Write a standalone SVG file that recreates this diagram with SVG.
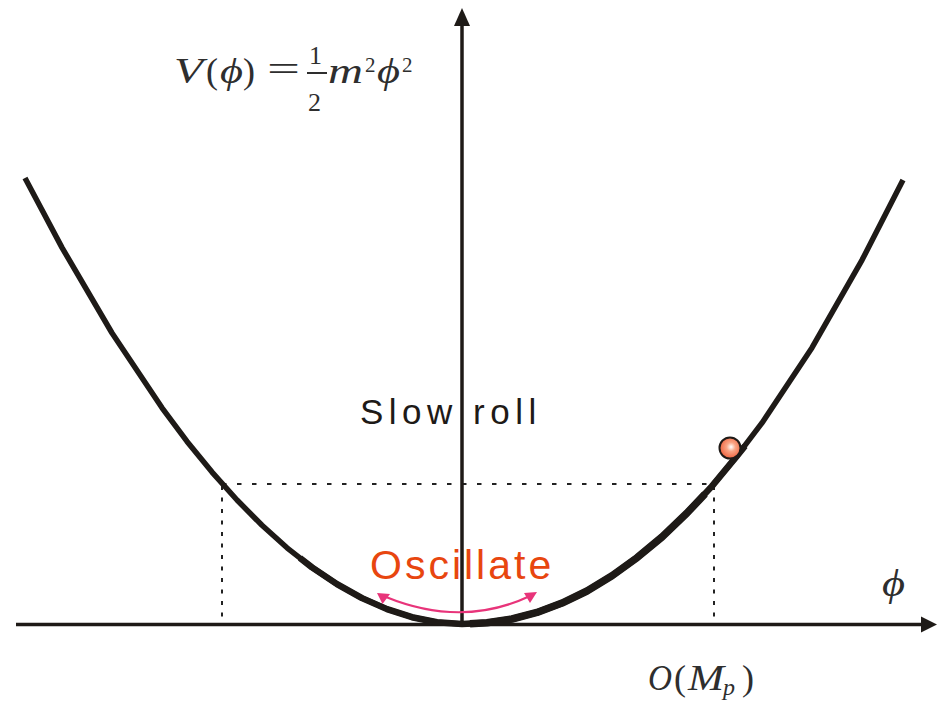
<svg xmlns="http://www.w3.org/2000/svg" width="943" height="701" viewBox="0 0 943 701">
<style>
.ax{stroke:#1e1a17;stroke-width:3.5;fill:none}
.cv{stroke:#1e1a17;fill:none;stroke-linejoin:round;stroke-linecap:butt}
.dash{stroke:#222;stroke-width:2;fill:none}
.math{font-family:"Liberation Serif","DejaVu Serif",serif;fill:#2e2e2e}
.it{font-style:italic}
.lbl{font-family:"Liberation Sans",Arial,sans-serif}
</style>
<defs>
<radialGradient id="ball" cx="0.55" cy="0.45" r="0.6">
<stop offset="0" stop-color="#ffffff"/>
<stop offset="0.35" stop-color="#f9a585"/>
<stop offset="1" stop-color="#ee5a35"/>
</radialGradient>
</defs>
<g id="dashed-guides">
<path class="dash" d="M222,484 H714" stroke-dasharray="4.5 10.5"/>
<path class="dash" d="M222,486 V622" stroke-dasharray="4 7.5"/>
<path class="dash" d="M714,486 V622" stroke-dasharray="4 7.5"/>
</g>
<g id="axes">
<path class="ax" d="M16,624.5 H922"/>
<polygon points="937,624.5 921,616.5 921,632.5" fill="#1e1a17"/>
<path class="ax" d="M462,25 V626" stroke-width="4"/>
<polygon points="462,8 454,26 470,26" fill="#1e1a17"/>
</g>
<g id="potential-curve">
<path class="cv" stroke-width="5.5" d="M25,178 L62,247.6 L112,333 L162,407.8 L187,441.4 L212,472.1 L237,500 L262,525.3 L287,547.8 L312,567.4 L337,584.1 L362,598.1 L387,609.1 L412,617.2 L437,622.2 L462,624 L487,622.8 L512,619 L537,612.4 L562,603.1 L587,591 L612,575.8 L637,557.7 L662,537 L687,513 L712,486.1 L737,455.9 L762,422.9 L812,347.7 L862,260.1 L903,180"/>
<path class="cv" stroke-width="6.5" d="M300,558 L312,567.4 L337,584.1 L362,598.1 L387,609.1 L412,617.2 L437,622.2 L462,624 L487,622.8 L512,619 L537,612.4 L562,603.1 L587,591 L612,575.8 L637,557.7 L662,537 L687,513 L712,486.1 L737,455.9 L745,446"/>
<path class="cv" stroke-width="7.5" d="M470,623.8 L487,622.8 L512,619 L537,612.4 L562,603.1 L587,591 L612,575.8 L637,557.7 L662,537 L687,513 L705,494"/>
</g>
<g id="ball-node">
<circle cx="730" cy="448" r="10.5" fill="url(#ball)" stroke="#1e1a17" stroke-width="2"/>
</g>
<g id="oscillate-arrow">
<path d="M386,597 Q462,628 530,596" stroke="#e8347a" stroke-width="2.2" fill="none"/>
<polygon points="377,593 390,594 382.5,604" fill="#e8347a"/>
<polygon points="524,593 537,592 530,603" fill="#e8347a"/>
</g>
<g id="labels">
<text class="lbl" x="360" y="424" font-size="35" letter-spacing="5.5" fill="#1e1a17">Slow roll</text>
<text class="lbl" x="370" y="579" font-size="41" letter-spacing="3" fill="#e8460f">Oscillate</text>
</g>
<g id="formula" class="math">
<text x="174" y="83" font-size="36" class="it" textLength="29" lengthAdjust="spacingAndGlyphs">V</text>
<text x="206" y="83" font-size="36">(</text>
<text x="220" y="83" font-size="36" class="it" textLength="23" lengthAdjust="spacingAndGlyphs">ϕ</text>
<text x="243" y="83" font-size="36">)</text>
<text x="267" y="81" font-size="36" textLength="33" lengthAdjust="spacingAndGlyphs">=</text>
<text x="309" y="64" font-size="26">1</text>
<path d="M307,73 H327" stroke="#2e2e2e" stroke-width="2"/>
<text x="308" y="111" font-size="26">2</text>
<text x="328" y="83" font-size="36" class="it" textLength="35" lengthAdjust="spacingAndGlyphs">m</text>
<text x="365" y="72" font-size="21">2</text>
<text x="377" y="83" font-size="36" class="it" textLength="23" lengthAdjust="spacingAndGlyphs">ϕ</text>
<text x="402" y="72" font-size="21">2</text>
</g>
<g id="axis-labels" class="math">
<text x="882" y="596" font-size="38" class="it" textLength="23" lengthAdjust="spacingAndGlyphs">ϕ</text>
<text x="648" y="690" font-size="36" class="it" textLength="24" lengthAdjust="spacingAndGlyphs">O</text>
<text x="674" y="690" font-size="36">(</text>
<text x="688" y="690" font-size="36" class="it" textLength="36" lengthAdjust="spacingAndGlyphs">M</text>
<text x="723" y="695" font-size="24" class="it">p</text>
<text x="742" y="690" font-size="36">)</text>
</g>
</svg>
